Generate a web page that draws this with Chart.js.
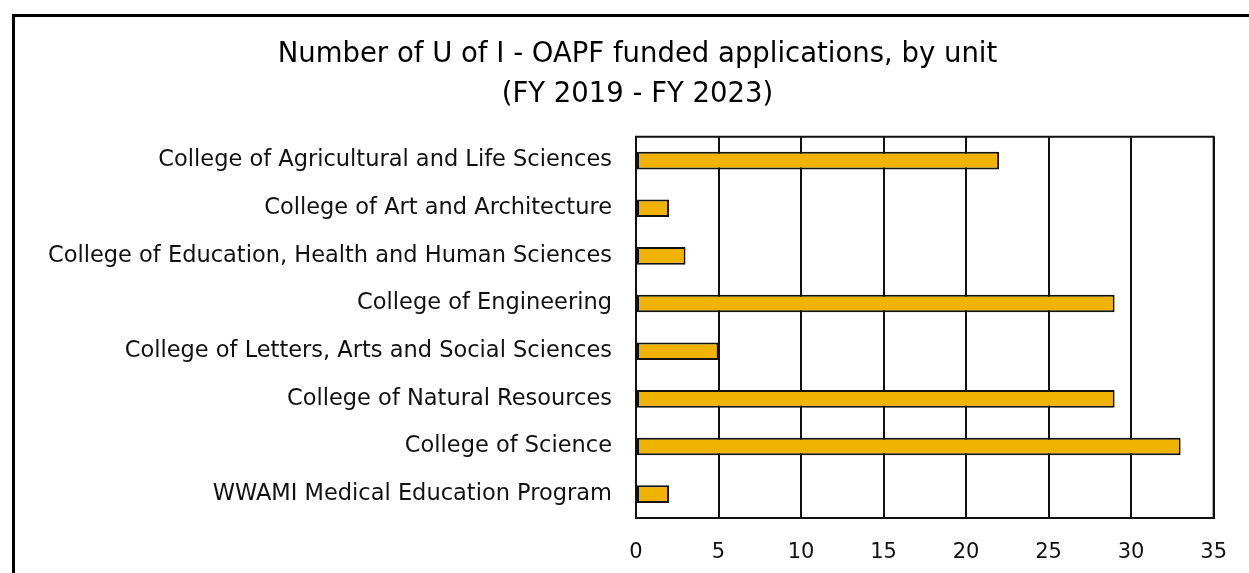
<!DOCTYPE html>
<html>
<head>
<meta charset="utf-8">
<script src="https://cdn.jsdelivr.net/npm/chart.js@4"></script>
<style>
  html, body { margin: 0; padding: 0; background: #fff; }
  #frame {
    position: absolute; left: 12px; top: 14px; width: 1240px; height: 565px;
    border-top: 3px solid #000; border-left: 3px solid #000;
  }
  #wrap { position: absolute; left: 0; top: 0; width: 1249px; height: 573px; }
</style>
</head>
<body>
<div id="frame"></div>
<div id="wrap"><canvas id="unitChart"></canvas></div>
<script>
// unidades y numero de solicitudes financiadas
const units = [
    "College of Agricultural and Life Sciences",
    "College of Art and Architecture",
    "College of Education, Health and Human Sciences",
    "College of Engineering",
    "College of Letters, Arts and Social Sciences",
    "College of Natural Resources",
    "College of Science",
    "WWAMI Medical Education Program"
];
const funded = [22, 2, 3, 29, 5, 29, 33, 2];
const xTicks = [0, 5, 10, 15, 20, 25, 30, 35];

const fontFam = "'DejaVu Sans', sans-serif";

// marco del area de trazado (arriba y derecha)
const plotFrame = {
    id: "plotFrame",
    afterDraw(chart) {
        const a = chart.chartArea;
        const ctx = chart.ctx;
        ctx.save();
        ctx.strokeStyle = "#111";
        ctx.lineWidth = 2;
        ctx.strokeRect(a.left, a.top, a.right - a.left, a.bottom - a.top);
        ctx.restore();
    }
};

const ctx = document.getElementById("unitChart").getContext("2d");
new Chart(ctx, {
    type: "bar",
    data: {
        labels: units,
        datasets: [{
            data: funded,
            backgroundColor: "#F0B400",
            borderColor: "#111",
            borderWidth: 2,
            borderSkipped: false,
            categoryPercentage: 1,
            barPercentage: 0.37
        }]
    },
    options: {
        indexAxis: "y",
        responsive: true,
        maintainAspectRatio: false,
        animation: false,
        layout: { padding: { left: 44, right: 18, top: 0, bottom: 0 } },
        plugins: {
            legend: { display: false },
            tooltip: { enabled: false },
            title: {
                display: true,
                text: ["Number of U of I - OAPF funded applications, by unit", "(FY 2019 - FY 2023)"],
                color: "#000",
                font: { family: fontFam, size: 27.5, weight: "normal", lineHeight: 1.45 },
                padding: { top: 35, bottom: 22 }
            }
        },
        scales: {
            x: {
                min: 0, max: 35,
                afterBuildTicks(scale) { scale.ticks = xTicks.map(v => ({ value: v })); },
                afterFit(scale) { scale.height = 55; },
                grid: { color: "#111", lineWidth: 2, drawTicks: false },
                border: { color: "#111", width: 2 },
                ticks: { color: "#111", padding: 22, font: { family: fontFam, size: 21 } }
            },
            y: {
                afterFit(scale) { scale.width = 636 - 44; },
                grid: { display: false },
                border: { color: "#111", width: 2 },
                ticks: { color: "#111", padding: 16, font: { family: fontFam, size: 22.5 } }
            }
        }
    },
    plugins: [plotFrame]
});
</script>
</body>
</html>
